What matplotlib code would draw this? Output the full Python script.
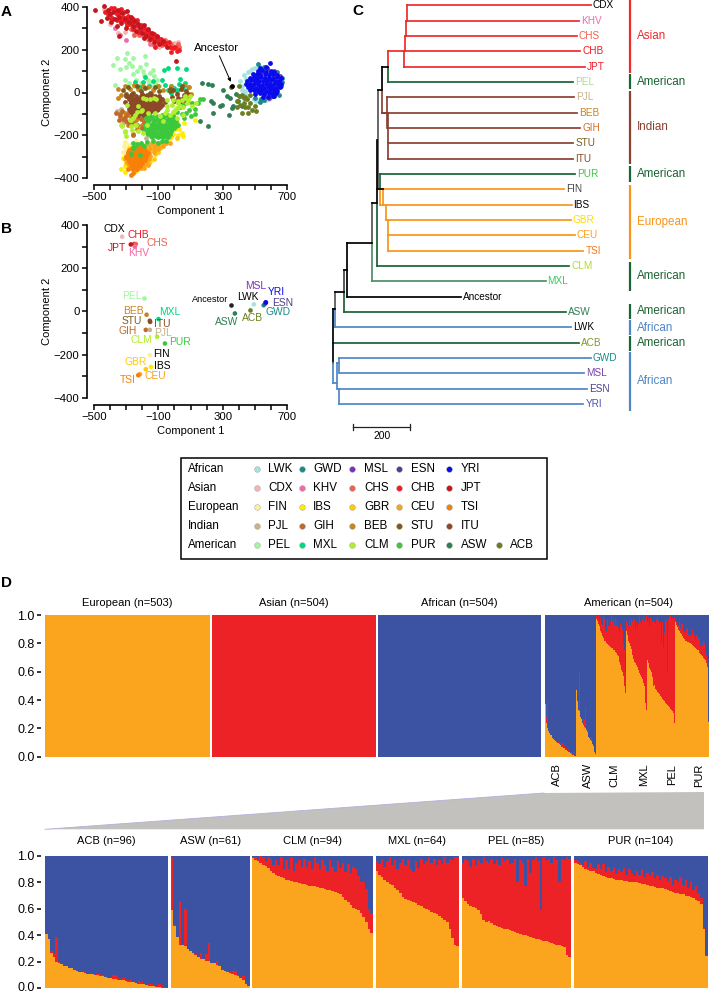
import numpy as np
import matplotlib
matplotlib.use('Agg')
import matplotlib.pyplot as plt
from matplotlib.transforms import ScaledTranslation

plt.rcParams.update({
    'font.family': ['Liberation Sans', 'DejaVu Sans'],
    'font.size': 8,
    'axes.linewidth': 1.2,
    'xtick.major.width': 1.1,
    'ytick.major.width': 1.1,
})

W, H = 709, 992

# population colours
colors = {
    'LWK': '#a6e3e0', 'GWD': '#1a8a8a', 'MSL': '#7b2fbe', 'ESN': '#4b3f8f', 'YRI': '#0a0aee',
    'CDX': '#f2b6b6', 'KHV': '#f06aa8', 'CHS': '#f0614f', 'CHB': '#ee1c25', 'JPT': '#c4161c',
    'FIN': '#fff099', 'IBS': '#ffec00', 'GBR': '#ffc90e', 'CEU': '#fba31a', 'TSI': '#f98008',
    'PJL': '#c9b18c', 'GIH': '#c0692b', 'BEB': '#c8861f', 'STU': '#7a5c1e', 'ITU': '#8b4a25',
    'PEL': '#a0f7a0', 'MXL': '#00d97e', 'CLM': '#b0f030', 'PUR': '#3cc83c', 'ASW': '#2f7f55',
    'ACB': '#6b7f20',
}

# Panel A: individuals
lwk_a = [(410,55),(420,30),(430,80),(440,5),(455,95),(465,-15),(480,110),(495,-30),(510,-40),(530,-30),
         (550,-35),(570,-35),(420,10),(445,65),(500,115),(525,125),(470,100),(440,-5),(600,-20),(590,-30)]
gwd_a = [(520,135),(555,120),(640,95),(670,50),(665,30),(590,-20),(560,-35),(530,-45),(610,-15),(650,-10),
         (500,-25),(540,-30),(670,70)]
msl_a = [(575,111),(620,100),(655,75),(640,20),(560,-5),(580,-20),(615,-10),(530,90),(590,-25)]
esn_a = [(545,100),(600,95),(500,60),(640,50),(610,0),(520,10),(575,115)]
yri_a = [(596,138),(530,115),(570,120),(520,100),(545,103),(572,98),(600,101),(622,97),
         (490,85),(512,88),(535,84),(561,87),(585,83),(610,86),(635,82),
         (470,70),(495,72),(515,68),(541,71),(565,67),(590,70),(614,68),(640,72),(660,68),
         (450,55),(476,57),(500,53),(525,56),(550,52),(575,55),(600,57),(625,53),(650,55),
         (445,40),(470,42),(495,38),(520,41),(545,37),(570,40),(595,42),(620,38),(645,41),(665,39),
         (455,25),(480,27),(505,23),(530,26),(555,22),(580,25),(605,27),(630,23),(655,26),
         (470,10),(495,12),(520,8),(545,11),(570,7),(595,10),(620,12),(640,8),
         (500,-5),(530,-3),(560,-7),(585,-4),(610,-6),(630,-3),(550,-20),(580,-22),(610,-18),(620,-15)]
asw_a = [(170,44),(211,40),(232,37),(305,13),(284,-62),(295,-58),(326,-18),(345,-25),(367,-65),(355,-72),
         (398,-41),(408,-18),(418,-65),(380,-5),(238,-96),(211,-155),(159,-135),(226,-41),(243,-49),(342,-104)]
acb_a = [(350,25),(400,30),(420,-10),(430,-25),(390,-40),(450,-30),(470,-50),(410,-60),(440,-70),(480,-80),
         (420,-95),(460,-95),(500,-65),(390,-70),(470,-10),(510,-85),(440,-20),(400,-15),(430,-50),(460,-70)]
cdx_a = [(-350,280),(-310,285),(-250,280),(-170,250),(-440,390),(-95,215),(25,235),(-400,320),(0,230)]
khv_a = [(-340,270),(-298,244),(-150,228),(-370,300),(-130,225),(-200,270)]
chs_a = [(-400,350),(-350,375),(-270,295),(-220,270),(-160,245),(-110,245),(-60,245),(25,225),(30,215),
         (-20,225),(0,215),(-80,220),(-130,220),(-250,270)]
chb_a = [(-405,370),(-385,350),(-375,395),(-360,365),(-340,340),(-335,390),(-320,355),(-300,330),(-290,360),
         (-275,320),(-260,345),(-245,310),(-230,340),(-210,285),(-195,300),(-180,280),(-160,270),(-145,260),
         (-130,275),(-105,240),(-85,250),(-60,225),(-35,235),(-10,210),(15,195),(30,200),(-20,190),(-120,215),
         (-430,375),(-395,395),(-365,380),(-345,370),(-315,375),(-305,350),(-280,345),(-265,330),(-235,325),
         (-220,305),(-205,315),(-185,295),(-170,285),(-155,285),(-135,255),(-120,250),(-100,255),(-75,230),
         (-50,230),(-25,215),(5,215),(-415,365),(-390,345),(-355,340),(-325,340),(-295,315),(-255,295),(-225,285)]
jpt_a = [(-495,385),(-438,405),(-458,336),(-410,385),(-420,350),(-400,365),(-395,330),(-380,375),(-370,345),
         (-360,310),(-350,385),(-345,355),(-330,325),(-325,370),(-310,345),(-300,300),(-295,380),(-285,330),
         (-270,355),(-260,310),(-250,335),(-240,290),(-225,320),(-215,300),(-200,280),(-190,315),(-175,265),
         (-165,295),(-150,250),(-140,280),(-125,235),(-110,265),(-95,225),(-70,240),(-45,215),(10,149),
         (-346,263),(-190,255)]
pel_a = [(-292,185),(-360,160),(-380,130),(-340,110),(-300,120),(-310,155),(-280,140),(-260,160),(-265,125),
         (-230,100),(-255,85),(-240,60),(-215,120),(-195,100),(-180,170),(-175,135),(-190,80),(-165,60),
         (-160,45),(-135,105),(-130,75),(-150,90),(-110,60),(-95,30),(-370,35),(-310,60),(-285,45),(-250,30),
         (-205,45),(-145,30),(-120,45)]
mxl_a = [(-65,103),(-38,115),(14,115),(70,111),(-180,72),(-246,49),(-198,47),(-132,52),(-80,60),(35,63),
         (-24,29),(14,13),(66,44),(87,26),(-20,0),(-5,20),(30,40),(55,15),(-60,35),(-160,30),(-215,25),
         (-100,30),(-40,10),(15,5)]
pjl_a = [(-360,-85),(-335,-75),(-320,-145),(-210,-160),(-150,-110),(-120,-90),(-245,-70),(-60,-40),(35,-65),
         (-175,-215),(-190,-155),(90,-20),(-95,-110),(-160,-175),(-285,-60),(60,-55)]
beb_a = [(-350,15),(-310,30),(-275,15),(-250,35),(-225,15),(-195,30),(-165,25),(-135,10),(-105,30),(-350,-25),
         (-330,-10),(-70,10),(-20,30),(60,35),(90,25),(105,-5),(85,-45),(-310,-95),(-270,-115),(-240,-130),
         (-180,-120),(-290,-150),(-230,-170),(-200,-150),(-255,-195)]
gih_a = [(-365,-95),(-340,-100),(-325,-85),(-345,-130),(-320,-125),(-295,-105),(-300,-135),(-265,-120),
         (-280,-90),(-245,-100),(-225,-115),(-205,-125),(-210,-95),(-260,-145),(-235,-150),(-190,-140),
         (-175,-105),(-255,-200),(-200,-165),(-340,-110),(-310,-115),(-280,-145),(-215,-80)]
stu_a = [(-320,10),(-290,25),(-260,0),(-235,30),(-210,5),(-180,20),(-150,0),(-120,25),(-95,5),(-300,-5),
         (-90,-25),(-25,5),(45,30),(70,-15),(-30,15),(-200,-20),(-270,-10),(-170,-10),(60,-35)]
itu_a = [(-300,-15),(-270,-15),(-240,-15),(-210,-15),(-180,-15),(-150,-15),(-120,-15),(-95,-15),
         (-285,-30),(-255,-30),(-225,-30),(-195,-30),(-165,-30),(-135,-30),(-105,-30),(-75,-30),
         (-305,-45),(-270,-45),(-240,-45),(-210,-45),(-180,-45),(-150,-45),(-120,-45),(-90,-45),(-60,-45),
         (-290,-60),(-260,-60),(-230,-60),(-200,-60),(-170,-60),(-140,-60),(-110,-60),(-80,-60),
         (-280,-75),(-250,-75),(-220,-75),(-190,-75),(-160,-75),(-130,-75),(-100,-75),
         (-270,-90),(-240,-90),(-210,-90),(-180,-90),(-150,-90),(-255,-105),(-225,-105),(-195,-105),
         (-10,10),(15,-5),(40,15),(60,-10),(25,-25),(-15,-20),(50,-30),(75,5),(0,-40),(35,-45),(70,-25),(85,-5),
         (-290,-22),(-262,-8),(-232,-24),(-203,-7),(-172,-23),(-143,-8),(-113,-24),(-272,-37),(-243,-38),(-213,-36),
         (-183,-37),(-152,-38),(-122,-36),(-92,-37),(-278,-52),(-248,-53),(-218,-52),(-188,-53),(-158,-52),(-128,-53),
         (-98,-52),(-268,-68),(-238,-67),(-208,-68),(-178,-67),(-148,-68),(-118,-67),(-88,-68),(-258,-83),(-228,-82),
         (-198,-83),(-168,-82),(-138,-83),(-108,-82),(-245,-98),(-215,-97),(-185,-98)]
fin_a = [(-315,-250),(-300,-265),(-285,-245),(-320,-280),(-265,-240),(-290,-290),(-240,-225),(-310,-230),(-170,-260)]
ibs_a = [(14,-143),(30,-170),(60,-145),(45,-190),(20,-200),(55,-205),(5,-170),(-10,-195),(-30,-215),(128,-127),
         (-330,-360),(-310,-370),(-280,-260),(-160,-290),(-130,-270),(-110,-255),(-90,-250),(-150,-320),
         (-200,-350),(-240,-365),(-310,-345),(-320,-305),(-185,-245),(-120,-240)]
gbr_a = [(-70,-200),(-40,-190),(-15,-170),(-55,-230),(-90,-260),(-120,-290),(-150,-260),(-180,-275),(-210,-260),
         (-250,-270),(-280,-280),(-160,-330),(-190,-340),(-260,-345),(-300,-330),(-130,-310),(-100,-280),
         (15,-215),(-20,-205)]
ceu_a = [(-140,-235),(-110,-235),(-80,-235),(-55,-235),(-30,-235),(-220,-250),(-190,-250),(-160,-250),(-130,-250),
         (-100,-250),(-70,-250),(-250,-265),(-220,-265),(-190,-265),(-160,-265),(-130,-265),(-100,-265),
         (-275,-280),(-245,-280),(-215,-280),(-185,-280),(-155,-280),(-125,-280),(-300,-295),(-270,-295),
         (-240,-295),(-210,-295),(-180,-295),(-150,-295),(-305,-310),(-275,-310),(-245,-310),(-215,-310),
         (-185,-310),(-155,-310),(-295,-325),(-265,-325),(-235,-325),(-205,-325),(-175,-325),(-280,-340),
         (-250,-340),(-220,-340),(-195,-340),(-165,-340),(-270,-355),(-240,-355),(-210,-355),(-190,-355),(-250,-365)]
tsi_a = [(-260,-255),(-235,-255),(-210,-255),(-280,-270),(-255,-270),(-230,-270),(-205,-270),(-180,-270),
         (-290,-285),(-265,-285),(-240,-285),(-215,-285),(-190,-285),(-165,-285),(-300,-300),(-275,-300),
         (-250,-300),(-225,-300),(-200,-300),(-175,-300),(-285,-315),(-260,-315),(-235,-315),(-210,-315),
         (-185,-315),(-275,-330),(-250,-330),(-225,-330),(-200,-330),(-265,-345),(-240,-345),(-215,-345),
         (-255,-360),(-230,-360),(-267,-388),(-290,-360),(-260,-375),
         (-270,-263),(-245,-262),(-218,-263),(-290,-277),(-268,-278),(-243,-277),(-218,-278),(-192,-277),
         (-280,-292),(-255,-293),(-228,-292),(-203,-293),(-178,-292),(-290,-308),(-265,-307),(-240,-308),
         (-215,-307),(-192,-308),(-280,-322),(-255,-323),(-230,-322),(-205,-323),(-270,-338),(-245,-337),
         (-220,-338),(-260,-352),(-235,-353)]
clm_a = [(-330,-150),(-309,-182),(-298,-202),(-267,-127),(-236,-150),(-246,-104),(-205,-85),(-121,-96),(-49,-65),
         (-28,-104),(3,-80),(45,-34),(66,-18),(35,-65),(76,-49),(107,-65),(135,-50),(14,-120),(55,-104),(-70,-135),
         (-173,-150),(-194,-190),(-225,-182),(-267,-158),(97,-18),(-7,-34),(-90,-112),(-175,-30),(-125,-25),
         (-225,-65),(-60,-95),(-15,-60),(25,-40),(-194,-27),(-152,-30),(-117,-30),(-293,-58),(-204,-82),(-235,-90),
         (-163,-97),(-45,-35),(13,-74),(24,-51),(65,-27),(86,-35),(55,-66),(-7,-90),(-49,-82),(-328,-157),
         (-308,-183),(-256,-121),(-277,-129),(-246,-152),(-266,-175)]
pur_a = [(-160,-105),(-120,-105),(-80,-105),(-45,-105),(-10,-105),(-175,-120),(-140,-120),(-105,-120),(-70,-120),
         (-35,-120),(0,-120),(-170,-135),(-130,-135),(-95,-135),(-60,-135),(-25,-135),(10,-135),(-185,-150),
         (-150,-150),(-115,-150),(-80,-150),(-45,-150),(-10,-150),(20,-150),(-175,-165),(-140,-165),(-105,-165),
         (-70,-165),(-35,-165),(-5,-165),(-190,-180),(-155,-180),(-120,-180),(-85,-180),(-50,-180),(-20,-180),
         (-165,-195),(-130,-195),(-95,-195),(-60,-195),(-30,-195),(-140,-210),(-100,-210),(-70,-210),(-40,-210),
         (35,-70),(55,-60),(75,-95),(90,-80),(110,-50),(125,-75),(145,-50),(160,-30),(180,-30),(130,-100),
         (100,-110),(60,-120),(45,-100),(15,-90),(-260,-235),(-230,-240),(-205,-235),(-170,-230),(-135,-225),
         (-100,-235),(-190,-250),(-250,-255),(-270,-290),(-215,-291),(-257,-260),(-80,-228),(-55,-225),
         (-150,-112),(-100,-113),(-62,-112),(-28,-113),(-158,-128),(-118,-127),(-82,-128),(-48,-127),(-12,-128),
         (-168,-143),(-132,-142),(-98,-143),(-62,-142),(-28,-143),(-2,-142),(-165,-158),(-128,-157),(-92,-158),
         (-58,-157),(-25,-158),(8,-157),(-158,-172),(-122,-173),(-88,-172),(-52,-173),(-18,-172),(-172,-188),
         (-138,-187),(-102,-188),(-68,-187),(-38,-188),(-148,-203),(-112,-202),(-82,-203),(-50,-202)]
ancestor_a = [(361,32)]

# Panel B: population means
pop_b = ['CDX','CHB','JPT','CHS','KHV','PEL','BEB','MXL','STU','ITU','GIH','PJL','CLM','PUR','FIN','IBS','GBR',
         'CEU','TSI','ASW','ACB','LWK','GWD','ESN','MSL','YRI']
x_b = [-325,-250,-271,-240,-246,-186,-173,-99,-153,-151,-178,-153,-107,-59,-153,-146,-178,-215,-225,376,473,494,555,565,567,569]
y_b = [346,312,310,312,300,60,-15,-35,-43,-48,-85,-85,-117,-148,-202,-256,-267,-290,-295,-9,5,33,29,37,42,42]
ancestor_b = (351, 29)
label_pos_b = {'CDX':(-371,381),'CHB':(-225,354),'CHS':(-107,317),'JPT':(-354,293),'KHV':(-221,269),'PEL':(-265,70),
               'BEB':(-255,2),'MXL':(-28,-3),'STU':(-265,-45),'ITU':(-78,-58),'GIH':(-292,-88),'PJL':(-69,-101),
               'CLM':(-203,-134),'PUR':(32,-142),'FIN':(-80,-198),'GBR':(-238,-235),'IBS':(-74,-252),'CEU':(-119,-298),
               'TSI':(-288,-318),'LWK':(459,66),'MSL':(503,119),'YRI':(632,90),'ESN':(673,39),'GWD':(646,-1),
               'ASW':(322,-49),'ACB':(488,-29)}

# Panel C: tree, branch lengths in tree units, rows counted from the top
leaves = ['CDX','KHV','CHS','CHB','JPT','PEL','PJL','BEB','GIH','STU','ITU','PUR','FIN','IBS','GBR','CEU','TSI',
          'CLM','MXL','Ancestor','ASW','LWK','ACB','GWD','MSL','ESN','YRI']
leaf_start = [261,257,254,251,248,193,190,173,193,195,195,166,175,166,187,194,195,156,139,49,40,9,2,22,26,18,22]
leaf_end = [903,863,854,866,883,842,845,854,866,842,842,848,811,836,833,848,877,828,745,448,817,833,861,903,880,891,877]
RED, GRN, BRN, ORG, BLU, BLK = '#ee2a2b', '#1a6332', '#8a4130', '#f7941d', '#4f86c6', '#000000'
leaf_color = [RED]*5 + [GRN] + [BRN]*5 + [GRN] + [ORG]*5 + [GRN, '#4f8f65', BLK, GRN, BLU, GRN] + [BLU]*4
leaf_text = ['#000000','#f06aa8','#f0614f','#ee1c25','#ee1c25','#a6e08a','#c9b18c','#c8861f','#d0702b','#7a5c1e',
             '#8b4a25','#3cc83c','#444444','#000000','#ffdd00','#f9a01b','#f47b20','#b5d92d','#3cc860','#000000',
             '#2f7f55','#000000','#7f9a30','#1a8a8a','#7b3fa8','#4b3f8f','#4a55a8']
tree_v = [(261,0,1,RED),(257,1,2,RED),(254,2,3,RED),(251,3,4,RED),(193,3,4,RED),(193,4,5,GRN),(173,4,5.5,BLK),
          (173,5.5,7,BRN),(190,6,8,BRN),(195,7,10,BRN),(160,5.5,12,'#555555'),(156,8.8,12.9,BLK),(166,11,12,GRN),
          (166,12,13,ORG),(175,12,13,ORG),(187,13,14,ORG),(194,14,15,ORG),(195,15,16,ORG),(156,12.9,17,GRN),
          (139,12.9,15.48,'#555555'),(139,15.48,18,'#4f8f65'),(49,15.48,19,BLK),(40,17.27,18.68,'#444444'),
          (40,18.68,20,GRN),(9,18.68,19.83,'#555555'),(9,19.83,21,BLU),(0,19.83,23.35,BLK),(0,23.35,24.62,BLU),
          (23,23,24,BLU),(16,23.35,25,BLU),(23,25,26,BLU)]
tree_h = [(193,251,3,RED),(173,193,4,BLK),(160,173,5.5,BLK),(156,175,12,BLK),(139,156,12.9,BLK),(49,139,15.48,BLK),
          (40,49,17.27,BLK),(9,40,18.68,BLK),(0,9,19.83,BLK),(0,16,24.62,BLU),(16,23,23.35,BLU),(193,195,8,BRN),
          (173,190,7,BRN)]
side_groups = ['Asian','American','Indian','American','European','American','American','African','American','African']
side_top = [0,74,90.7,166,185,261.7,304,320,336,352]
side_bot = [72.7,89.3,164,182,259.3,290.7,318.7,335.3,350.7,410.7]
side_col = [RED,GRN,BRN,GRN,ORG,GRN,GRN,BLU,GRN,BLU]

# legend rows
legend_rows = [('African',['LWK','GWD','MSL','ESN','YRI']),('Asian',['CDX','KHV','CHS','CHB','JPT']),
               ('European',['FIN','IBS','GBR','CEU','TSI']),('Indian',['PJL','GIH','BEB','STU','ITU']),
               ('American',['PEL','MXL','CLM','PUR','ASW','ACB'])]

# Panel D: ancestry fractions per sample (orange, red, the rest blue)
acb_orange = [.41,.37,.27,.24,.20,.19,.18,.17,.165,.155,.15,.14,.13,.125,.12,.115,.11,.105,.105,.10,
              .10,.095,.09,.085,.08,.08,.07,.07,.065,.06,.06,.055,.05,.05,.045,.04,.035,.03,.03,.025,
              .02,.02,.015,.01,.01,.005,.003,.002]
acb_red = [0,0,.01,.03,.19,.01,0,0,0,0,0,0,0,0,.005,.005,0,0,0,0,
           .005,.01,.01,0,0,0,.03,.03,.02,0,.02,.005,.01,.01,0,0,.02,.02,0,0,
           .01,.01,.005,.01,.02,.01,.01,.002]
asw_orange = [.59,.47,.39,.33,.33,.32,.30,.28,.265,.25,.24,.225,.22,.21,.205,.195,.19,.175,.165,.14,
              .13,.12,.115,.11,.10,.09,.075,.06,.03,.02]
asw_red = [.40,.01,0,.33,0,.28,0,0,0,.01,0,.04,0,.05,.14,0,0,.03,.01,0,0,.01,.01,.02,.03,.01,0,.03,.01,0]
clm_orange = [.985,.97,.96,.95,.935,.925,.91,.89,.875,.86,.85,.84,.83,.82,.815,.81,.805,.80,.795,.79,
              .785,.78,.775,.77,.77,.765,.76,.755,.75,.745,.74,.735,.73,.72,.71,.69,.67,.65,.63,.61,
              .60,.59,.57,.54,.50,.45,.415]
clm_red = [.01,.02,.02,.05,.06,.04,.08,.09,.06,.11,.08,.15,.07,.15,.085,.18,.085,.15,.175,.13,
           .195,.14,.185,.13,.22,.185,.14,.215,.18,.145,.23,.185,.15,.24,.20,.26,.21,.29,.24,.31,
           .30,.26,.23,.26,.25,.15,.155]
mxl_orange = [.89,.86,.84,.82,.80,.79,.78,.76,.74,.72,.69,.675,.67,.66,.655,.645,.63,.62,.61,.60,
              .59,.575,.57,.56,.55,.535,.52,.50,.45,.38,.33,.32]
mxl_red = [.07,.08,.14,.10,.16,.20,.15,.21,.16,.23,.29,.255,.30,.24,.225,.315,.28,.36,.33,.36,
           .40,.375,.41,.37,.42,.405,.47,.45,.53,.59,.66,.67]
pel_orange = [.685,.66,.64,.625,.615,.605,.595,.56,.52,.50,.505,.49,.475,.47,.46,.455,.45,.445,.44,.43,
              .425,.42,.41,.405,.40,.395,.39,.38,.375,.37,.365,.36,.355,.35,.34,.335,.33,.325,.32,.31,.25,.24]
pel_red = [.265,.32,.32,.295,.365,.325,.375,.39,.47,.46,.445,.49,.465,.50,.47,.535,.51,.535,.50,.52,
           .555,.38,.56,.545,.37,.585,.48,.59,.615,.59,.225,.63,.615,.63,.61,.655,.64,.475,.66,.66,.74,.74]
pur_orange = [.95,.94,.93,.915,.905,.895,.89,.885,.875,.865,.855,.85,.84,.835,.83,.825,.82,.82,.815,.81,
              .81,.805,.80,.80,.80,.795,.79,.785,.78,.775,.77,.765,.76,.76,.755,.75,.74,.735,.725,.72,
              .72,.715,.71,.70,.695,.69,.68,.67,.66,.635,.445,.245]
pur_red = [.02,.02,.02,.015,.055,.025,.06,.025,.025,.075,.045,.09,.04,.085,.06,.085,.05,.08,.065,.10,
           .05,.095,.07,.05,.09,.065,.11,.055,.09,.075,.11,.065,.10,.06,.095,.08,.07,.105,.055,.10,
           .08,.125,.07,.12,.065,.11,.06,.10,.06,.045,.015,.005]
american = ['ACB','ASW','CLM','MXL','PEL','PUR']
american_n = [96,61,94,64,85,104]
american_orange = [acb_orange,asw_orange,clm_orange,mxl_orange,pel_orange,pur_orange]
american_red = [acb_red,asw_red,clm_red,mxl_red,pel_red,pur_red]
american_label_x = [557,588,614,644,671.7,699]
# the three homogeneous groups: orange, red, blue share
solid = {'European (n=503)':(1.0,0,0),'Asian (n=504)':(0,1.0,0),'African (n=504)':(0,0,1.0)}
C_ORANGE, C_RED, C_BLUE = '#fba51f', '#ec2227', '#3c53a4'

fig = plt.figure(figsize=(W/100, H/100), dpi=100)


def px_axes(x0, y0, x1, y1, **kw):
    return fig.add_axes([x0/W, 1-y1/H, (x1-x0)/W, (y1-y0)/H], **kw)


def pca_axes(y0, y1):
    ax = px_axes(94, y0, 287, y1)
    ax.set_xlim(-500, 700)
    ax.set_ylim(-400, 400)
    for s in ['top', 'right']:
        ax.spines[s].set_visible(False)
    ax.spines['left'].set_position(('outward', 5.3))
    ax.spines['bottom'].set_position(('outward', 5))
    ax.patch.set_alpha(0)
    ax.set_xticks(range(-500, 800, 100))
    ax.set_xticklabels([str(v).replace('-', '\u2212') if v in (-500, -100, 300, 700) else '' for v in range(-500, 800, 100)])
    ax.set_yticks(range(-400, 500, 100))
    ax.set_yticklabels([str(v).replace('-', '\u2212') if v % 200 == 0 else '' for v in range(-400, 500, 100)])
    ax.tick_params(length=3.6, labelsize=8.2, pad=1.5)
    ax.set_xlabel('Component 1', fontsize=8, labelpad=3)
    ax.set_ylabel('Component 2', fontsize=8, labelpad=1)
    return ax


# Panel A
ax_a = pca_axes(7, 178)
draw_order = [('LWK',lwk_a),('GWD',gwd_a),('MSL',msl_a),('ESN',esn_a),('YRI',yri_a),('ASW',asw_a),('ACB',acb_a),
              ('CDX',cdx_a),('KHV',khv_a),('CHS',chs_a),('CHB',chb_a),('JPT',jpt_a),('PEL',pel_a),('MXL',mxl_a),
              ('PJL',pjl_a),('BEB',beb_a),('GIH',gih_a),('STU',stu_a),('ITU',itu_a),('FIN',fin_a),('IBS',ibs_a),
              ('GBR',gbr_a),('CEU',ceu_a),('TSI',tsi_a),('PUR',pur_a),('CLM',clm_a)]
for pop, pts in draw_order:
    xs, ys = zip(*pts)
    ax_a.scatter(xs, ys, s=12, color=colors[pop], linewidths=0, clip_on=False)
ax_a.scatter(*zip(*ancestor_a), s=12, color='black', linewidths=0, zorder=5)
ax_a.annotate('Ancestor', xy=ancestor_a[0], xytext=(216/W, 1-48/H), textcoords='figure fraction',
              fontsize=8.2, ha='center', va='center',
              arrowprops=dict(arrowstyle='-|>', lw=0.7, color='black', mutation_scale=5, shrinkA=0, shrinkB=3))

# Panel B
ax_b = pca_axes(225, 398)
ax_b.scatter(x_b, y_b, s=11, color=[colors[p] for p in pop_b], linewidths=0, clip_on=False)
ax_b.scatter(*ancestor_b, s=11, color='#222222', linewidths=0)
black_labels = ('CDX', 'LWK', 'FIN', 'IBS')
for pop, (lx, ly) in label_pos_b.items():
    c = 'black' if pop in black_labels else colors[pop]
    ax_b.text(lx, ly, pop, color=c, fontsize=7.4, ha='center', va='center')
ax_b.text(222, 57, 'Ancestor', color='black', fontsize=6.6, ha='center', va='center')

# Panel C, one px is 3.5 tree units
x_c0 = 332.7
ax_c = px_axes(x_c0, 5.3, 709, 5.3+26*15.33)
ax_c.set_xlim(0, (709-x_c0)*3.5)
ax_c.set_ylim(26, 0)
ax_c.axis('off')
for i, leaf in enumerate(leaves):
    ax_c.plot([leaf_start[i], leaf_end[i]], [i, i], color=leaf_color[i], lw=1.25, solid_capstyle='projecting', clip_on=False)
    ax_c.text(leaf_end[i]+7, i, leaf, color=leaf_text[i], fontsize=7.2, ha='left', va='center', clip_on=False)
for x, r0, r1, c in tree_v:
    ax_c.plot([x, x], [r0, r1], color=c, lw=1.25, solid_capstyle='projecting', clip_on=False)
for x0, x1, r, c in tree_h:
    ax_c.plot([x0, x1], [r, r], color=c, lw=1.25, solid_capstyle='projecting', clip_on=False)

# overlay in picture pixels for the furniture
ov = fig.add_axes([0, 0, 1, 1], zorder=-1)
ov.set_xlim(0, W)
ov.set_ylim(H, 0)
ov.axis('off')
top = fig.add_axes([0, 0, 1, 1], zorder=10)
top.set_xlim(0, W)
top.set_ylim(H, 0)
top.axis('off')
top.patch.set_alpha(0)

for name, y0, y1, c in zip(side_groups, side_top, side_bot, side_col):
    top.plot([630, 630], [y0, y1], color=c, lw=1.6, solid_capstyle='butt')
    top.text(636.7, (y0+y1)/2, name, color=c, fontsize=8.4, ha='left', va='center')
top.plot([353.3, 410], [426.7, 426.7], color='#222222', lw=0.9)
top.plot([353.3, 353.3], [423.7, 429.7], color='#222222', lw=0.9)
top.plot([410, 410], [423.7, 429.7], color='#222222', lw=0.9)
top.text(382.5, 436, '200', fontsize=7.4, ha='center', va='center')

for letter, lx, ly in [('A', 6, 12), ('B', 6, 229), ('C', 358, 11), ('D', 6, 583)]:
    top.text(lx, ly, letter, fontsize=11, fontweight='bold', ha='center', va='center')

# Legend box
top.add_patch(plt.Rectangle((180.7, 458), 366, 101, fill=False, ec='black', lw=1.1))
legend_y = [469.3, 487.7, 507, 526, 545]
marker_x = [256.7, 301.7, 352.3, 399.3, 449.3, 499.3]
text_x = [268.3, 313.3, 364, 410.7, 460.7, 510]
for (group, pops), y in zip(legend_rows, legend_y):
    top.text(188.3, y, group, fontsize=8.4, ha='left', va='center')
    for pop, mx, tx in zip(pops, marker_x, text_x):
        top.scatter([mx], [y], s=17, color=colors[pop], edgecolors='#999999', linewidths=0.3)
        top.text(tx, y, pop, fontsize=8.4, ha='left', va='center')

# Panel D


def stacked(ax, pos, width, orange, red):
    orange = np.array(orange, dtype=float)
    red = np.array(red, dtype=float)
    ax.bar(pos, orange, width=width, color=C_ORANGE, linewidth=0)
    ax.bar(pos, red, width=width, bottom=orange, color=C_RED, linewidth=0)
    ax.bar(pos, 1-orange-red, width=width, bottom=orange+red, color=C_BLUE, linewidth=0)


def struct_axes(x0, y0, x1, y1, xmax, show_y):
    ax = px_axes(x0, y0, x1, y1)
    ax.set_xlim(0, xmax)
    ax.set_ylim(0, 1)
    ax.set_xticks([])
    for s in ax.spines.values():
        s.set_visible(False)
    ax.spines['left'].set_position(('outward', 3.2))
    if show_y:
        ax.set_yticks(np.arange(0, 1.01, 0.2))
        ax.set_yticklabels(['%.1f' % v for v in np.arange(0, 1.01, 0.2)])
        ax.tick_params(axis='y', length=3.2, labelsize=9, pad=1)
    else:
        ax.set_yticks([])
    return ax


top_x = [(45, 210), (212, 376), (378, 541)]
for i, ((title, vals), (x0, x1)) in enumerate(zip(solid.items(), top_x)):
    ax = struct_axes(x0, 615, x1, 756.7, 1, i == 0)
    stacked(ax, [0.5], 1.0, [vals[0]], [vals[1]])
    top.text((x0+x1)/2, 603, title, fontsize=8, ha='center', va='center')

ax_am = struct_axes(544.5, 615, 709, 756.7, sum(american_n), False)
start = 0
for name, n, o, r, lx in zip(american, american_n, american_orange, american_red, american_label_x):
    step = n/len(o)
    stacked(ax_am, start+step*(np.arange(len(o))+0.5), step*1.02, o, r)
    top.text(lx, 775, name, fontsize=8, rotation=90, ha='center', va='center')
    start += n
top.text(629, 603, 'American (n=504)', fontsize=8, ha='center', va='center')

low_x = [(45, 168.3), (170.7, 250), (251.7, 372.7), (375.7, 459), (461.7, 571), (574, 707.7)]
for i, (name, n, o, r, (x0, x1)) in enumerate(zip(american, american_n, american_orange, american_red, low_x)):
    ax = struct_axes(x0, 856, x1, 988.3, len(o), i == 0)
    stacked(ax, np.arange(len(o))+0.5, 1.02, o, r)
    top.text((x0+x1)/2, 841, '%s (n=%d)' % (name, n), fontsize=8, ha='center', va='center')
    if i == 0:
        # keep the lowest tick label inside the page
        low = ax.get_yticklabels()[0]
        low.set_transform(low.get_transform()+ScaledTranslation(0, 1.5/72, fig.dpi_scale_trans))

# grey zoom wedge
ov.add_patch(plt.Polygon([(45, 829.3), (544, 793), (704, 792), (704, 829.3)], closed=True, fc='#c3c1bd', ec='none'))
ov.plot([45, 544], [829.3, 793], color='#b3b0dc', lw=0.6)

fig.savefig('out.png', dpi=100)
